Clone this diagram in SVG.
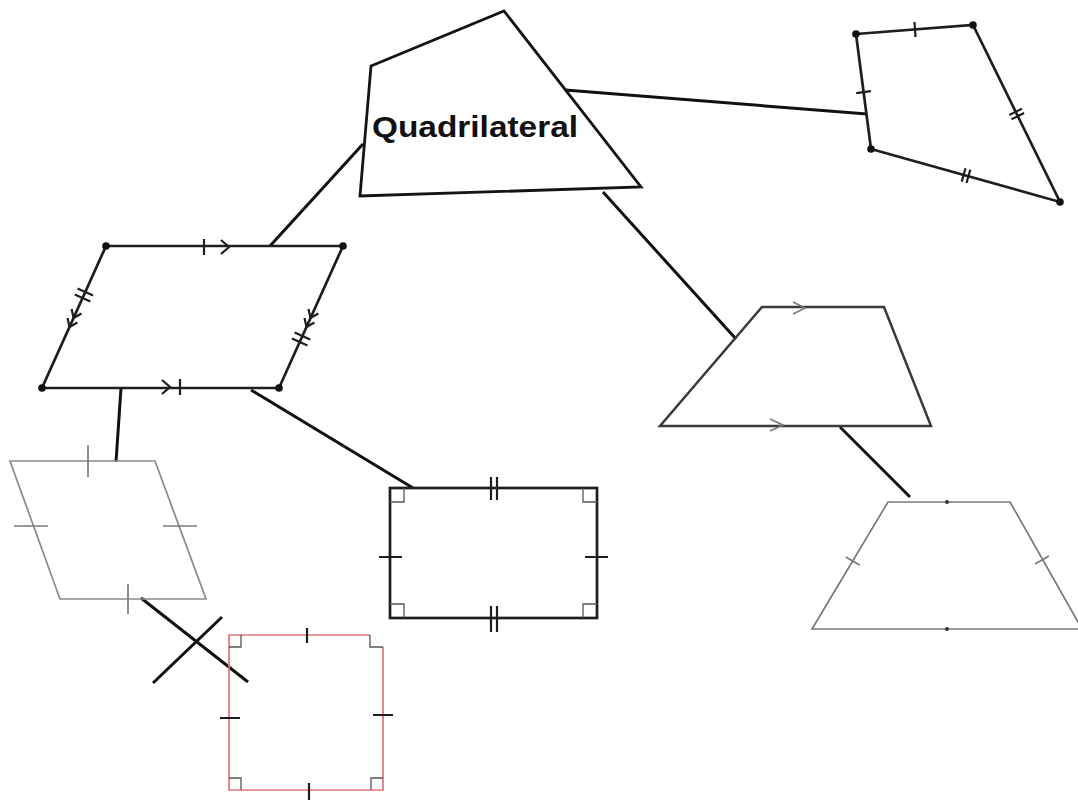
<svg xmlns="http://www.w3.org/2000/svg" width="1078" height="802" viewBox="0 0 1078 802">
<style>
.bk{fill:none;stroke:#141414;stroke-width:2.8;stroke-linejoin:miter}
.sh{fill:none;stroke:#1e1e1e;stroke-width:2.7}
.tk{fill:none;stroke:#1e1e1e;stroke-width:2.2}
.gr{fill:none;stroke:#8a8a8a;stroke-width:1.7}
.gt{fill:none;stroke:#7a7a7a;stroke-width:1.7}
.dg{fill:none;stroke:#3a3a3a;stroke-width:2.5}
.ra{fill:none;stroke:#555;stroke-width:1.3}
.rd{fill:none;stroke:#e2737c;stroke-width:1.7}
.cn{fill:none;stroke:#111;stroke-width:3}
.dot{fill:#111}
.lbl{font-family:"Liberation Sans",Arial,sans-serif;font-weight:bold;font-size:30px;fill:#111}
</style>
<rect width="1078" height="802" fill="#fff"/>
<g id="connectors">
<line class="cn" x1="565" y1="90" x2="867" y2="114"/>
<line class="cn" x1="363" y1="144" x2="270" y2="246"/>
<line class="cn" x1="603" y1="192" x2="736" y2="339"/>
<line class="cn" x1="121" y1="388" x2="116" y2="462"/>
<line class="cn" x1="251" y1="390" x2="413" y2="488"/>
<line class="cn" x1="840" y1="427" x2="910" y2="497"/>
<line class="cn" x1="141" y1="598" x2="248" y2="682"/>
<line class="cn" x1="153" y1="683" x2="222" y2="617"/>
</g>
<g id="quadrilateral">
<polygon class="bk" points="371,66 504,11 641,187 360,196" fill="#fff"/>
<text class="lbl" x="372" y="137" textLength="206" lengthAdjust="spacingAndGlyphs">Quadrilateral</text>
</g>
<g id="kite">
<polygon class="sh" points="856,34 973,25 1060,202 871,149"/>
<circle class="dot" cx="856" cy="34" r="3.8"/><circle class="dot" cx="973" cy="25" r="3.8"/>
<circle class="dot" cx="1060" cy="202" r="3.8"/><circle class="dot" cx="871" cy="149" r="3.8"/>
<path class="tk" d="M915.5,37L914.5,22M856.2,93.1L871,91.1M1009.3,114.9L1021.9,108.7M1011.5,119.3L1024.1,113.1M965.5,168.2L961.7,181.6M970.3,169.6L966.5,183"/>
</g>
<g id="parallelogram">
<polygon class="sh" points="106,246 343,246 279,388 42,388"/>
<circle class="dot" cx="106" cy="246" r="3.8"/><circle class="dot" cx="343" cy="246" r="3.8"/>
<circle class="dot" cx="279" cy="388" r="3.8"/><circle class="dot" cx="42" cy="388" r="3.8"/>
<path class="tk" d="M204,239V255M221,240L229,247L221,254M162,380L170,387L162,394M180,379V395"/>
<path class="tk" d="M77.5,288.5L93.1,295.5M74.8,294.5L90.4,301.5M81.5,313.5L73.6,318L71.6,309M77.4,322.5L69.5,327L67.5,318"/>
<path class="tk" d="M318.4,313.5L310.5,318L308.5,309M314.4,322.5L306.5,327L304.5,318M294.6,332.5L310.2,339.5M291.9,338.5L307.5,345.5"/>
</g>
<g id="rhombus">
<polygon class="gr" points="10,461 155,461 206,599 60,599"/>
<path class="gt" d="M88,445V477M14,526H48M163,526H197M128,584V614"/>
</g>
<g id="rectangle">
<rect class="sh" x="390" y="488" width="207" height="130"/>
<path class="ra" d="M390,502H404V488M583,488V502H597M390,604H404V618M597,604H583V618"/>
<path class="tk" d="M491,477V500M497,477V500M491,606V632M497,606V632M379,557H402M585,557H608"/>
</g>
<g id="square">
<polyline class="rd" points="370,635 229,635 229,790 383,790 383,647"/>
<path class="ra" d="M229,647H241V635M370,635V647H383M229,778H241V790M371,790V778H383"/>
<path class="tk" d="M307,628V643M220,718H240M373,715H393M309,783V800"/>
</g>
<g id="trapezoid">
<polygon class="dg" points="762,307 884,307 931,426 660,426"/>
<path class="gt" d="M793,302L805,308L793,314M770,419L783,425L770,431"/>
</g>
<g id="isosceles-trapezoid">
<polygon class="gt" points="888,502 1010,502 1082,629 812,629"/>
<circle cx="947" cy="502" r="2" fill="#333"/><circle cx="947" cy="629" r="2" fill="#333"/>
<path class="gt" d="M845.8,556.9L859.6,565.1M1035,563.9L1049,556.1"/>
</g>
</svg>
